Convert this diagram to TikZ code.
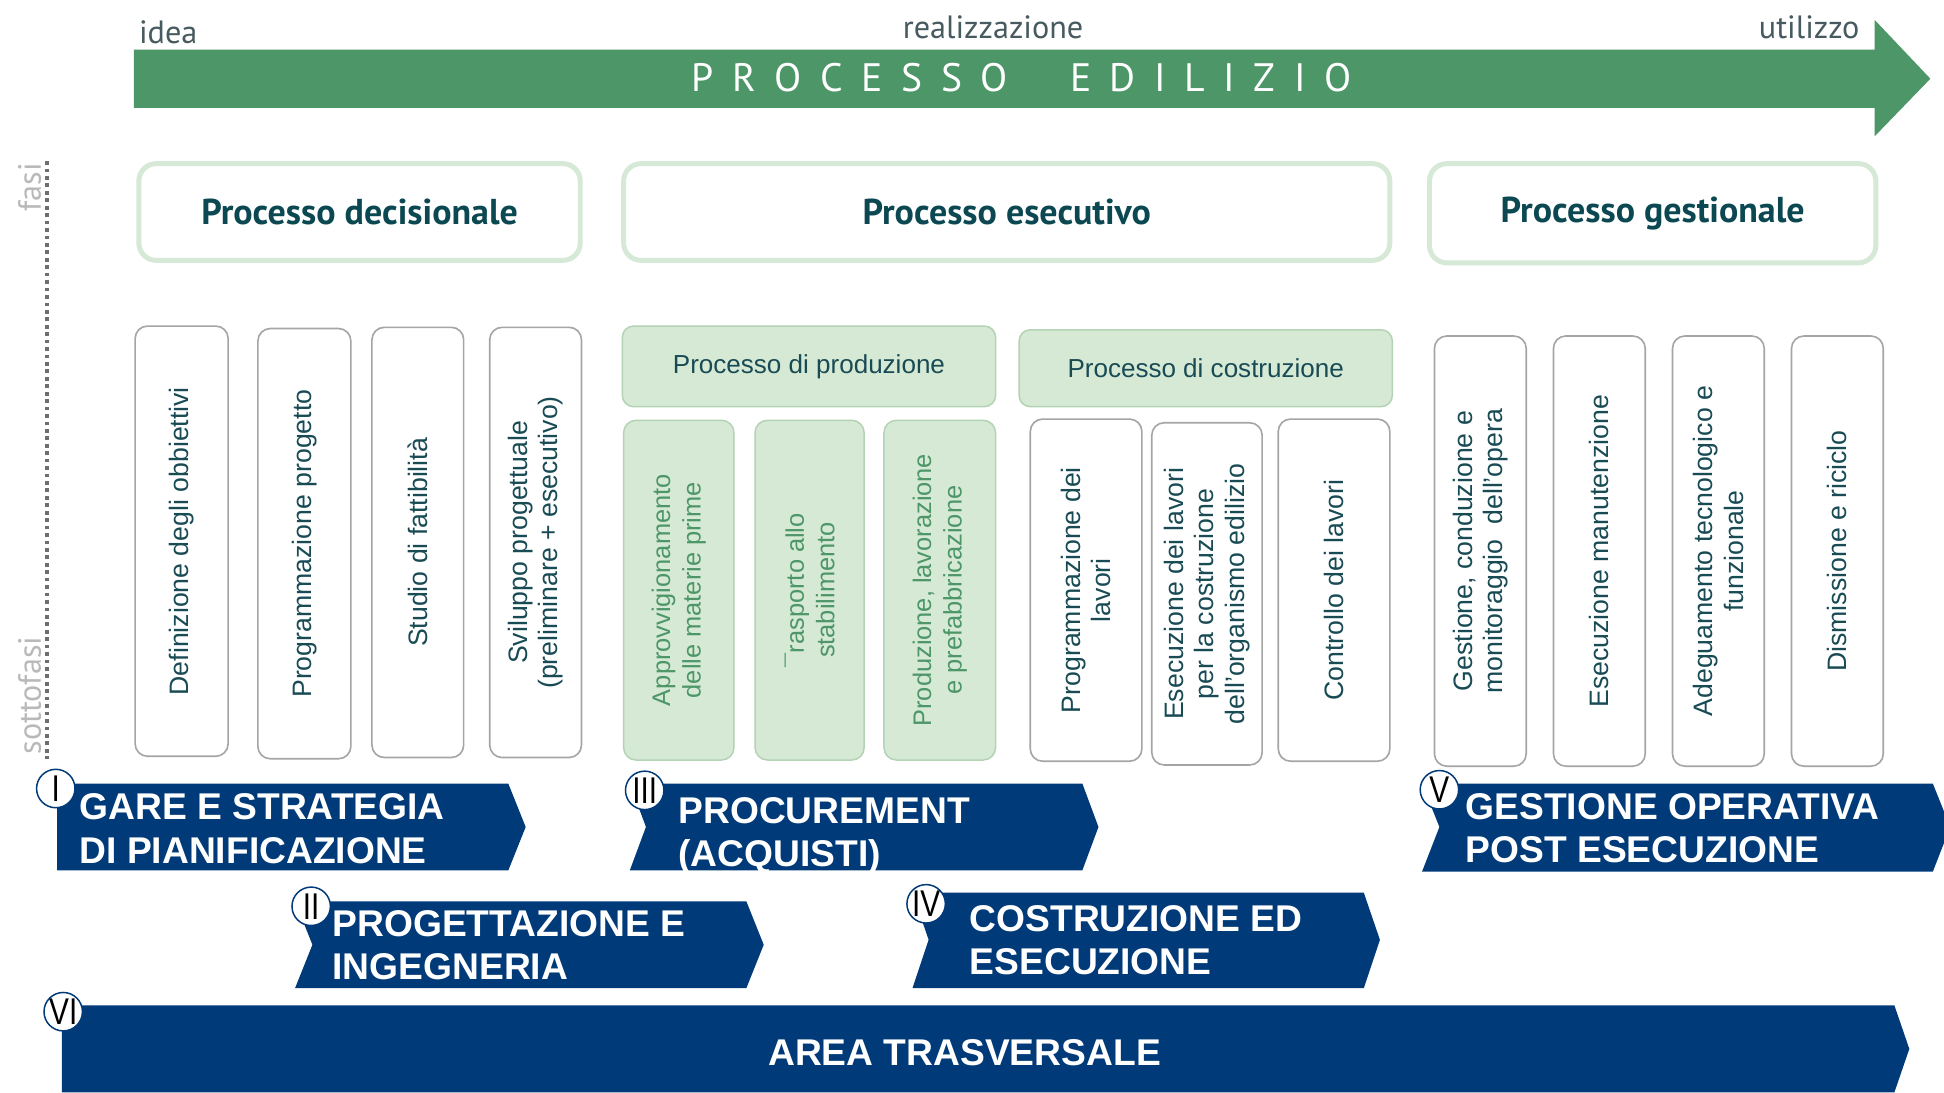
\documentclass[tikz,border=0pt]{standalone}
\usepackage{fontspec}
\setmainfont{Liberation Sans}
\newfontfamily\din{PT Sans}
\newfontfamily\numfont[FakeStretch=0.8]{Liberation Sans}
\definecolor{arrowgreen}{RGB}{76,150,104}
\definecolor{navyblue}{RGB}{0,58,120}
\definecolor{darkteal}{RGB}{12,72,82}
\definecolor{subtext}{RGB}{25,75,85}
\definecolor{greentext}{RGB}{76,150,104}
\definecolor{lightgreen}{RGB}{214,233,213}
\definecolor{lgborder}{RGB}{180,210,180}
\definecolor{headborder}{RGB}{214,232,214}
\definecolor{greyborder}{RGB}{165,165,165}
\definecolor{labelgrey}{RGB}{70,90,95}
\definecolor{faintgrey}{RGB}{185,185,185}
\definecolor{dotgrey}{RGB}{110,110,110}
\tikzset{
  phasebox/.style={draw=headborder, line width=4pt, rounded corners=14pt, fill=white,
    font=\din\bfseries\fontsize{29}{34}\selectfont, text=darkteal, inner sep=0pt},
  subbox/.style={draw=greyborder, line width=1.3pt, rounded corners=10pt, fill=white,
    text=subtext, font=\fontsize{21.5}{24.5}\selectfont, align=center, rotate=90, inner sep=0pt},
  greenbox/.style={draw=lgborder, line width=1.2pt, rounded corners=10pt, fill=lightgreen,
    text=greentext, font=\fontsize{20.5}{24.5}\selectfont, align=center, rotate=90, inner sep=0pt},
  greenhead/.style={draw=lgborder, line width=1.2pt, rounded corners=9pt, fill=lightgreen,
    text=subtext, font=\fontsize{21}{25}\selectfont, inner sep=0pt},
  chevtext/.style={text=white, font=\bfseries\fontsize{30}{35}\selectfont, align=left, anchor=west, inner sep=0pt},
  badge/.style={circle, draw=navyblue, line width=1.2pt, fill=white, minimum size=31pt, inner sep=0pt,
    text=black, font=\numfont\fontsize{30}{30}\selectfont},
  toplabel/.style={text=labelgrey, font=\din\fontsize{26}{30}\selectfont, inner sep=0pt, anchor=base},
  sidelabel/.style={text=faintgrey, font=\din\fontsize{26}{30}\selectfont, inner sep=0pt, rotate=90}
}
\newcommand{\lsp}{\hspace{15pt}}
\begin{document}
\begin{tikzpicture}[x=1pt,y=-1pt]
\useasboundingbox (0,0) rectangle (1568,881);
\clip (0,0) rectangle (1568,881);
\fill[white] (0,0) rectangle (1568,881);

% main green arrow
\fill[arrowgreen] (108,40) -- (1512,40) -- (1512,16) -- (1557,63.5) -- (1512,110) -- (1512,87) -- (108,87) -- cycle;
\node[text=white, font=\din\fontsize{32}{32}\selectfont, inner sep=0pt] (pe) at (824,63)
  {P\lsp R\lsp O\lsp C\lsp E\lsp S\lsp S\lsp O\hspace{50pt}E\lsp D\lsp I\lsp L\lsp I\lsp Z\lsp I\lsp O};
\node[toplabel, anchor=base west] (idea) at (112,35) {idea};
\node[toplabel] (real) at (801,31) {realizzazione};
\node[toplabel, anchor=base east] (util) at (1500,31) {utilizzo};

% side labels
\draw[dotgrey, line width=3.5pt, dash pattern=on 3pt off 3pt] (38,130) -- (38,612);
\node[sidelabel] (fasi) at (24,151) {fasi};
\node[sidelabel] (sotto) at (24,561) {sottofasi};

% phase boxes
\node[phasebox, minimum width=356pt, minimum height=78pt] (pd) at (290,171) {Processo decisionale};
\node[phasebox, minimum width=618pt, minimum height=78pt] (pes) at (812,171) {Processo esecutivo};
\node[phasebox, minimum width=360pt, minimum height=80pt] (pg) at (1333,172) {Processo gestionale};

% decisional sub-phases
\node[subbox, minimum width=347pt, minimum height=75pt] (d1) at (146.5,436.5) {Definizione degli obbiettivi};
\node[subbox, minimum width=347pt, minimum height=75pt] (d2) at (245.5,438.5) {Programmazione progetto};
\node[subbox, minimum width=347pt, minimum height=74pt] (d3) at (337,437.5) {Studio di fattibilità};
\node[subbox, minimum width=347pt, minimum height=74pt] (d4) at (432,437.5) {Sviluppo progettuale\\(preliminare + esecutivo)};

% production / construction
\node[greenhead, minimum width=301pt, minimum height=65pt] (ph) at (652.5,295.5) {Processo di produzione};
\node[greenhead, minimum width=301pt, minimum height=62pt] (ch) at (972.5,297) {Processo di costruzione};
\node[greenbox, minimum width=274pt, minimum height=89pt] (p1) at (547.5,476) {Approvvigionamento\\delle materie prime};
\node[greenbox, minimum width=274pt, minimum height=88pt] (p2) at (653,476) {¯rasporto allo\\stabilimento};
\node[greenbox, minimum width=274pt, minimum height=90pt] (p3) at (758,476) {Produzione, lavorazione\\e prefabbricazione};
\node[subbox, minimum width=276pt, minimum height=90pt] (c1) at (876,476) {Programmazione dei\\lavori};
\node[subbox, minimum width=276pt, minimum height=89pt] (c2) at (973.5,479) {Esecuzione dei lavori\\per la costruzione\\dell’organismo edilizio};
\node[subbox, minimum width=276pt, minimum height=90pt] (c3) at (1076,476) {Controllo dei lavori};

% management sub-phases
\node[subbox, minimum width=347pt, minimum height=74pt] (g1) at (1194,444.5) {Gestione, conduzione e\\monitoraggio\ \ dell’opera};
\node[subbox, minimum width=347pt, minimum height=74pt] (g2) at (1290,444.5) {Esecuzione manutenzione};
\node[subbox, minimum width=347pt, minimum height=74pt] (g3) at (1386,444.5) {Adeguamento tecnologico e\\funzionale};
\node[subbox, minimum width=347pt, minimum height=74pt] (g4) at (1482,444.5) {Dismissione e riciclo};

% blue chevrons
\fill[navyblue] (46,632) -- (410,632) -- (424,667) -- (410,702) -- (46,702) -- cycle;
\fill[navyblue] (238,727) -- (602,727) -- (616,762) -- (602,797) -- (238,797) -- (252,762) -- cycle;
\fill[navyblue] (508,632) -- (873,632) -- (886,667) -- (873,702) -- (508,702) -- (521,667) -- cycle;
\fill[navyblue] (736,720) -- (1100,720) -- (1113,758) -- (1100,797) -- (736,797) -- (749,758) -- cycle;
\fill[navyblue] (1147,632) -- (1559,632) -- (1573,667) -- (1559,703) -- (1147,703) -- (1161,667) -- cycle;
\fill[navyblue] (50,811) -- (1528,811) -- (1540,846) -- (1528,881) -- (50,881) -- cycle;

\node[chevtext] (t1) at (64,668.5) {GARE E STRATEGIA\\DI PIANIFICAZIONE};
\node[chevtext] (t2) at (268,762.5) {PROGETTAZIONE E\\INGEGNERIA};
\node[chevtext] (t3) at (547,674) {PROCUREMENT\\(ACQUISTI)};
\node[chevtext] (t4) at (782,758.5) {COSTRUZIONE ED\\ESECUZIONE};
\node[chevtext] (t5) at (1182,668) {GESTIONE OPERATIVA\\POST ESECUZIONE};
\node[chevtext, anchor=center] (t6) at (778,849) {AREA TRASVERSALE};

% badges
\node[badge] (b1) at (45,636) {\makebox[0pt]{I}};
\node[badge] (b2) at (251,731) {\makebox[0pt]{II}};
\node[badge] (b3) at (520,637.5) {\makebox[0pt]{III}};
\node[badge] (b4) at (747,729) {\makebox[0pt]{IV}};
\node[badge] (b5) at (1161,637) {\makebox[0pt]{V}};
\node[badge] (b6) at (51,816) {\makebox[0pt]{VI}};
\end{tikzpicture}
\end{document}
